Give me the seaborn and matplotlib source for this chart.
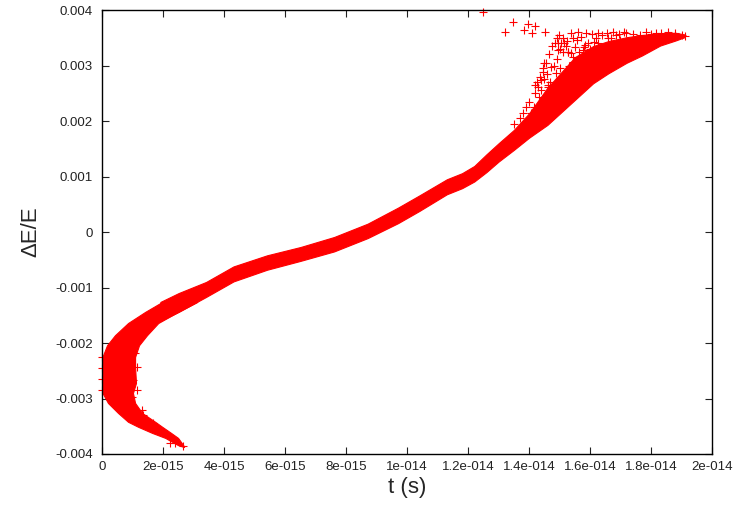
import numpy as np
import pandas as pd
import matplotlib
matplotlib.use("Agg")
import matplotlib.pyplot as plt
import seaborn as sns

# t in fs (1e-15 s), dE/E in units of 1e-3

# main band (a function of t): lower / upper edge of the dense cloud
band_t = [1.9, 2.5, 3.4, 4.3, 5.4, 6.5, 7.6, 8.7, 9.7, 10.4, 11.3, 11.8, 12.2, 12.6, 13.0, 13.5,
          14.0, 14.6, 15.5, 16.1, 16.6, 17.2, 17.7, 18.3, 18.8, 19.1]
band_lo = [-1.60, -1.44, -1.17, -0.89, -0.68, -0.52, -0.35, -0.11, 0.16, 0.38, 0.68, 0.79, 0.91, 1.08, 1.27, 1.48,
           1.70, 1.93, 2.38, 2.68, 2.86, 3.05, 3.18, 3.36, 3.45, 3.51]
band_hi = [-1.26, -1.10, -0.90, -0.62, -0.42, -0.27, -0.09, 0.15, 0.44, 0.66, 0.95, 1.06, 1.19, 1.40, 1.60, 1.84,
           2.14, 2.60, 3.15, 3.35, 3.44, 3.51, 3.55, 3.58, 3.59, 3.56]

# start of the run near t = 0 (a function of dE/E): left / right edge
blob_y = [-1.26, -1.44, -1.64, -1.86, -2.04, -2.25, -2.43, -2.72,
          -2.90, -3.08, -3.26, -3.42, -3.51, -3.62, -3.71, -3.84, -3.87]
blob_tl = [1.96, 1.40, 0.84, 0.41, 0.15, 0.0, 0.0, 0.0,
           0.0, 0.18, 0.51, 0.84, 1.17, 1.63, 2.06, 2.48, 2.65]
blob_tr = [3.11, 2.48, 1.83, 1.46, 1.20, 1.07, 1.07, 1.10,
           1.00, 1.07, 1.30, 1.73, 1.96, 2.25, 2.48, 2.65, 2.68]

# loose points around the cloud
pts_t = [12.49, 13.46, 13.22, 13.95, 14.20, 13.84, 14.09, 14.52,
         14.99, 15.03, 15.38, 15.43, 15.87, 15.29, 15.58, 15.93, 14.94, 15.38, 15.76,
         16.26, 16.75, 17.19, 17.63, 18.00, 18.34, 18.79, 19.00, 16.40, 17.40,
         15.60, 16.05, 16.55, 16.95, 17.85, 18.15, 18.55,
         15.16, 15.49, 15.82, 16.14, 16.47, 16.69, 16.97,
         14.39, 14.72, 14.63, 14.88, 15.44, 15.28, 15.80, 16.27, 14.95,
         14.45, 14.61, 14.33, 14.16, 14.06, 19.10,
         13.50, 13.70, 13.90, 14.00, 14.20, 14.30, 14.40, 14.50, 14.60, 14.70,
         14.80, 14.90, 15.00, 15.10, 15.20, 15.00, 14.85, 14.55, 14.25, 13.80,
         14.35, 14.50, 14.65, 14.75, 14.90, 15.10, 15.25, 15.45, 15.65, 15.70,
         16.00, 16.20, 16.60, 16.85, 17.10, 14.20, 14.45, 14.80, 15.15, 15.30,
         1.40, 1.07, 1.13, 1.00, 1.13, 0.97, 1.30,
         0.0, 0.0, 0.0, 0.0,
         1.95, 2.11, 2.22, 2.63, 2.38, 1.34, 1.67]
pts_y = [3.96, 3.79, 3.61, 3.75, 3.71, 3.64, 3.59, 3.61,
         3.55, 3.41, 3.58, 3.49, 3.58, 3.25, 3.46, 3.40, 3.28, 3.22, 3.28,
         3.58, 3.61, 3.58, 3.55, 3.57, 3.58, 3.58, 3.55, 3.55, 3.57,
         3.60, 3.56, 3.59, 3.57, 3.60, 3.58, 3.61,
         3.40, 3.34, 3.37, 3.43, 3.34, 3.49, 3.46,
         2.74, 2.97, 2.65, 2.86, 3.06, 3.24, 3.33, 3.41, 3.41,
         2.89, 2.62, 2.44, 2.26, 2.14, 3.53,
         1.95, 2.05, 2.25, 2.35, 2.50, 2.62, 2.55, 2.75, 2.85, 2.70,
         3.00, 3.12, 2.95, 3.25, 3.35, 3.30, 3.40, 3.05, 2.70, 2.15,
         2.80, 3.05, 3.20, 3.35, 3.50, 3.50, 3.45, 3.15, 3.25, 3.52,
         3.30, 3.50, 3.50, 3.55, 3.60, 2.65, 2.95, 2.60, 2.80, 3.00,
         -1.77, -2.18, -2.43, -2.67, -2.85, -2.97, -3.21,
         -2.25, -2.45, -2.65, -2.85,
         -3.60, -3.64, -3.80, -3.85, -3.81, -3.30, -3.45]

x_ticks = [0, 2e-15, 4e-15, 6e-15, 8e-15, 1e-14, 1.2e-14, 1.4e-14, 1.6e-14, 1.8e-14, 2e-14]
x_labels = ["0", "2e-015", "4e-015", "6e-015", "8e-015", "1e-014",
            "1.2e-014", "1.4e-014", "1.6e-014", "1.8e-014", "2e-014"]
y_ticks = [-0.004, -0.003, -0.002, -0.001, 0, 0.001, 0.002, 0.003, 0.004]
y_labels = ["-0.004", "-0.003", "-0.002", "-0.001", "0", "0.001", "0.002", "0.003", "0.004"]

sns.set_style("ticks")
plt.rcParams["font.family"] = ["Liberation Sans", "DejaVu Sans"]

red = "#ff0000"
fig = plt.figure(figsize=(7.34, 5.08), dpi=100)
ax = fig.add_axes([0.1396, 0.1063, 0.8304, 0.874])

ax.fill_between(np.array(band_t) * 1e-15, np.array(band_lo) * 1e-3, np.array(band_hi) * 1e-3,
                color=red, lw=0.8)
ax.fill_betweenx(np.array(blob_y) * 1e-3, np.array(blob_tl) * 1e-15, np.array(blob_tr) * 1e-15,
                 color=red, lw=0.8)

pts = pd.DataFrame({"t": np.array(pts_t) * 1e-15, "dE": np.array(pts_y) * 1e-3})
sns.scatterplot(data=pts, x="t", y="dE", marker="+", s=30, color=red, linewidth=0.8,
                ax=ax, clip_on=False)

ax.set_xlim(0, 2e-14)
ax.set_ylim(-0.004, 0.004)
ax.set_xticks(x_ticks)
ax.set_xticklabels(x_labels)
ax.set_yticks(y_ticks)
ax.set_yticklabels(y_labels)
ax.tick_params(direction="in", top=True, right=True, length=5, width=0.8,
               labelsize=9.5, colors="#222222", pad=5)
ax.tick_params(axis="y", pad=7)
for sp in ax.spines.values():
    sp.set_visible(True)
    sp.set_linewidth(1.0)
    sp.set_color("black")

ax.set_xlabel("t (s)", fontsize=16)
ax.set_ylabel("ΔE/E", fontsize=16)
ax.xaxis.set_label_coords(0.5, -0.052)
ax.yaxis.set_label_coords(-0.101, 0.5)

fig.savefig("out.png", dpi=100)
